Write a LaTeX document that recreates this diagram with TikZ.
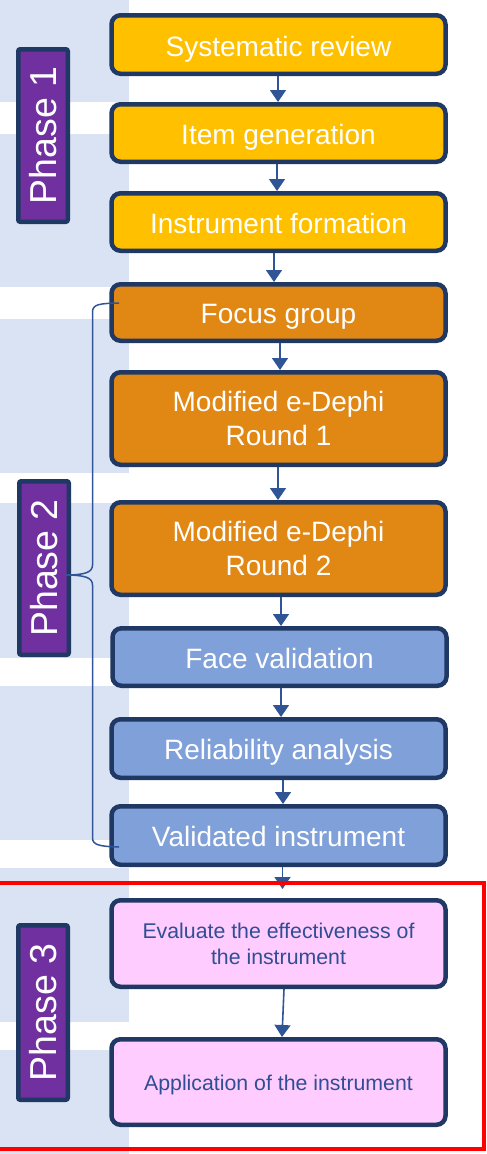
\documentclass[tikz,border=0pt]{standalone}
\usepackage{fontspec}
\setmainfont{Liberation Sans}
\usetikzlibrary{arrows.meta}
\definecolor{panel}{HTML}{DAE3F3}
\definecolor{navy}{HTML}{203864}
\definecolor{flow}{HTML}{2F5597}
\definecolor{gold}{HTML}{FFC000}
\definecolor{amber}{HTML}{E08714}
\definecolor{steel}{HTML}{7FA0D8}
\definecolor{blush}{HTML}{FFCCFF}
\definecolor{phasefill}{HTML}{7030A0}
\definecolor{pinktext}{HTML}{2F4E93}
\definecolor{alarm}{HTML}{FF0000}
\tikzset{
  stepbox/.style={draw=navy, line width=4.5pt, rounded corners=9pt,
    minimum width=334pt, align=center, text=white, inner sep=0pt,
    font=\fontsize{28}{33.5}\selectfont},
  oneline/.style={text height=22pt, text depth=0pt},
  pinkbox/.style={fill=blush, text=pinktext, font=\fontsize{21.3}{26}\selectfont},
  phasebox/.style={draw=navy, fill=phasefill, line width=4.5pt, rounded corners=2pt,
    rotate=90, minimum height=49.5pt, text=white, inner sep=0pt,
    font=\fontsize{37.5}{42}\selectfont},
  flowarrow/.style={draw=flow, line width=1.6pt, -{Triangle[width=16pt,length=12pt]}},
  bracket/.style={draw=flow, line width=1.5pt},
  band/.style={fill=panel, draw=none}
}
\begin{document}
\begin{tikzpicture}[x=1pt,y=-1pt]
\useasboundingbox (0,0) rectangle (487,1154);
% shaded bands behind the phase labels
\foreach \a/\b in {0/102, 134/287, 319/473, 503/658, 686/840, 868/1022, 1050/1154}
  \path[band] (0,\a) rectangle (129,\b);

% process steps
\node[stepbox, oneline, fill=gold, minimum height=58.5pt, text height=23pt] (sr) at (278.5,44.5) {Systematic review};
\node[stepbox, oneline, fill=gold, minimum height=57.5pt] (ig) at (278.5,133) {Item generation};
\node[stepbox, oneline, fill=gold, minimum height=57.5pt] (if) at (278.5,222) {Instrument formation};
\node[stepbox, oneline, fill=amber, minimum height=56.5pt] (fg) at (278.5,312.5) {Focus group};
\node[stepbox, fill=amber, minimum height=92.5pt] (r1) at (278.5,418.5) {Modified e-Dephi\\Round 1};
\node[stepbox, fill=amber, minimum height=92.5pt] (r2) at (278.5,548.5) {Modified e-Dephi\\Round 2};
\node[stepbox, oneline, fill=steel, minimum height=57.5pt] (fv) at (279.5,657) {Face validation};
\node[stepbox, oneline, fill=steel, minimum height=58.5pt] (ra) at (278.5,748.5) {Reliability analysis};
\node[stepbox, oneline, fill=steel, minimum height=58.5pt] (vi) at (278.5,835.5) {Validated instrument};
\node[stepbox, pinkbox, minimum height=86.5pt] (ev) at (278.5,943.5) {Evaluate the effectiveness of\\the instrument};
\node[stepbox, pinkbox, minimum height=85.5pt, text height=16pt, text depth=0pt] (ap) at (278.5,1082) {Application of the instrument};

% phase labels
\node[phasebox, minimum width=172.5pt] (p1) at (43,135.5) {Phase 1};
\node[phasebox, minimum width=173.5pt] (p2) at (44,568) {Phase 2};
\node[phasebox, minimum width=174.5pt] (p3) at (43,1012.5) {Phase 3};

% connectors
\draw[flowarrow] ([xshift=-0.5pt]sr.south) -- ([xshift=-0.5pt]ig.north);
\draw[flowarrow] ([xshift=-1.5pt]ig.south) -- ([xshift=-1.5pt]if.north);
\draw[flowarrow] ([xshift=-4.5pt]if.south) -- ([xshift=-4.5pt]fg.north);
\draw[flowarrow] ([xshift=1.5pt]fg.south) -- ([xshift=1.5pt]r1.north);
\draw[flowarrow] ([xshift=-0.5pt]r1.south) -- ([xshift=-0.5pt]r2.north);
\draw[flowarrow] ([xshift=2.5pt]r2.south) -- ([xshift=1.5pt]fv.north);
\draw[flowarrow] ([xshift=1.5pt]fv.south) -- ([xshift=2.5pt]ra.north);
\draw[flowarrow] ([xshift=4.5pt]ra.south) -- ([xshift=4.5pt]vi.north);
\coordinate (vitip) at (282.5,889);
\draw[flowarrow] ([xshift=4pt]vi.south) -- (vitip);
\draw[flowarrow] ([xshift=5.5pt]ev.south) -- ([xshift=3.5pt]ap.north);

% bracket grouping phase 2 steps
\coordinate (btop) at (119,303);
\coordinate (bbot) at (119,847);
\draw[bracket] (btop) .. controls (100,303.5) and (92.5,304) .. (92.5,312)
  -- (92.5,565) .. controls (92.5,572) and (86,575) .. (65,575)
  .. controls (86,575) and (92.5,578) .. (92.5,585)
  -- (92.5,838) .. controls (92.5,845) and (100,846.5) .. (bbot);

% outline around phase 3
\draw[alarm, line width=4.5pt] (-5,883) rectangle (484,1149);
\end{tikzpicture}
\end{document}
